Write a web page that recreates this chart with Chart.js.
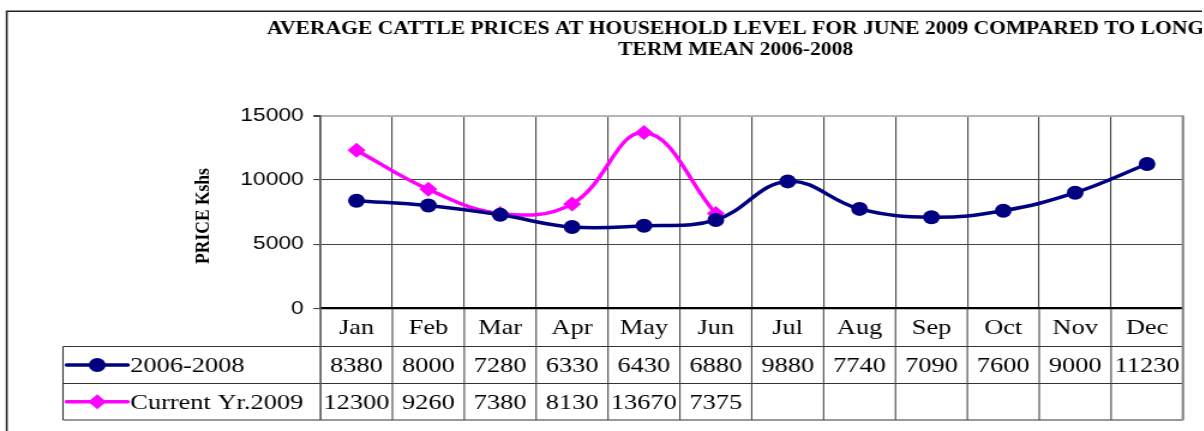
<!DOCTYPE html>
<html>
<head>
<meta charset="utf-8">
<script src="https://cdn.jsdelivr.net/npm/chart.js@4/dist/chart.umd.min.js"></script>
<style>
html,body{margin:0;padding:0;background:#fff;overflow:hidden;width:1204px;height:431px;}
#wrap{position:absolute;left:0;top:0;width:1002px;height:431px;transform:scaleX(1.2);transform-origin:0 0;}
</style>
</head>
<body>
<div id="wrap"><canvas id="c" width="1002" height="431"></canvas></div>
<script>
// ---- data ----
const months = ['Jan','Feb','Mar','Apr','May','Jun','Jul','Aug','Sep','Oct','Nov','Dec'];
const seriesNames = ['2006-2008','Current Yr.2009'];
const mean2006to2008 = [8380,8000,7280,6330,6430,6880,9880,7740,7090,7600,9000,11230];
const current2009 = [12300,9260,7380,8130,13670,7375,null,null,null,null,null,null];
const yTickValues = [0,5000,10000,15000];
const titleLines = ['AVERAGE CATTLE PRICES AT HOUSEHOLD LEVEL FOR JUNE 2009 COMPARED TO LONG','TERM MEAN 2006-2008'];
const yAxisTitle = 'PRICE Kshs';

// ---- styles ----
const NAVY = '#000080', MAGENTA = '#FF00FF';
const SERIF = "'Liberation Serif','Times New Roman',serif";

function strokeLine(ctx,x1,y1,x2,y2){ctx.beginPath();ctx.moveTo(x1,y1);ctx.lineTo(x2,y2);ctx.stroke();}
function drawMarker(ctx,style,x,y,r,color){
  ctx.fillStyle=color;ctx.beginPath();
  if(style==='circle'){ctx.arc(x,y,r,0,Math.PI*2);}
  else{ctx.moveTo(x,y-r);ctx.lineTo(x+r,y);ctx.lineTo(x,y+r);ctx.lineTo(x-r,y);ctx.closePath();}
  ctx.fill();
}

const decorPlugin = {
  id:'decor',
  afterDraw(chart){
    const {ctx, chartArea:a, scales:{x}} = chart;
    const y0=a.bottom, y1=y0+38, y2=y1+37, y3=y2+36.5;
    const tableLeft=52.5;
    ctx.save();
    // plot border right
    ctx.strokeStyle='#8a8a8a';ctx.lineWidth=2.2;
    strokeLine(ctx,a.right,a.top,a.right,a.bottom);
    // table lines
    ctx.strokeStyle='#333';ctx.lineWidth=1.1;
    strokeLine(ctx,tableLeft,y1,a.right,y1);
    strokeLine(ctx,tableLeft,y2,a.right,y2);
    strokeLine(ctx,tableLeft,y3,a.right,y3);
    strokeLine(ctx,tableLeft,y1,tableLeft,y3);
    const n=months.length;
    for(let i=0;i<=n;i++){
      let xb;
      if(i===0) xb=a.left; else if(i===n) xb=a.right;
      else xb=(x.getPixelForValue(i-1)+x.getPixelForValue(i))/2;
      if(i===n){ctx.strokeStyle='#8a8a8a';ctx.lineWidth=2.2;} else if(i===0){ctx.strokeStyle='#555';ctx.lineWidth=1.6;} else {ctx.strokeStyle='#444';ctx.lineWidth=1.1;}
      strokeLine(ctx,xb,y0,xb,y3);
    }
    // month labels and values
    ctx.fillStyle='#000';ctx.font='22px '+SERIF;ctx.textAlign='center';ctx.textBaseline='middle';
    const rows=[mean2006to2008,current2009];
    for(let i=0;i<n;i++){
      const cx=x.getPixelForValue(i);
      ctx.fillText(months[i],cx,(y0+y1)/2+1);
      if(rows[0][i]!=null) ctx.fillText(String(rows[0][i]),cx,(y1+y2)/2+1);
      if(rows[1][i]!=null) ctx.fillText(String(rows[1][i]),cx,(y2+y3)/2+1);
    }
    // legend keys
    const keys=[{c:NAVY,s:'circle',r:7,y:(y1+y2)/2},{c:MAGENTA,s:'diamond',r:7.5,y:(y2+y3)/2}];
    keys.forEach((k,i)=>{
      ctx.strokeStyle=k.c;ctx.lineWidth=3.5;ctx.lineCap='round';
      strokeLine(ctx,55.5,k.y,106.5,k.y);
      drawMarker(ctx,k.s,81,k.y,k.r,k.c);
      ctx.fillStyle='#000';ctx.textAlign='left';ctx.font='22px '+SERIF;
      ctx.fillText(seriesNames[i],108.5,k.y+1);
    });
    // title
    ctx.fillStyle='#000';ctx.textAlign='center';ctx.textBaseline='alphabetic';
    ctx.font='bold 18px '+SERIF;
    ctx.fillText(titleLines[0],613,34);
    ctx.fillText(titleLines[1],613,55);
    // y axis title
    ctx.save();ctx.translate(169,216);ctx.rotate(-Math.PI/2);
    ctx.font='bold 17.5px '+SERIF;ctx.textBaseline='middle';ctx.fillText(yAxisTitle,0,0);
    ctx.restore();
    // outer border (right and bottom run past the page)
    ctx.strokeStyle='#222';ctx.lineWidth=1.6;
    ctx.beginPath();ctx.moveTo(5.6,440);ctx.lineTo(5.6,11.3);ctx.lineTo(1010,11.3);ctx.stroke();
    ctx.restore();
  }
};

new Chart(document.getElementById('c'),{
  type:'line',
  data:{
    labels:months,
    datasets:[
      {label:seriesNames[0],data:mean2006to2008,borderColor:NAVY,backgroundColor:NAVY,borderWidth:3.5,
       pointStyle:'circle',pointRadius:7,pointBackgroundColor:NAVY,pointBorderColor:NAVY,pointBorderWidth:0,tension:0.4},
      {label:seriesNames[1],data:current2009,borderColor:MAGENTA,backgroundColor:MAGENTA,borderWidth:3.5,
       pointStyle:'rectRot',pointRadius:7.5,pointBackgroundColor:MAGENTA,pointBorderColor:MAGENTA,pointBorderWidth:0,tension:0.4}
    ]
  },
  options:{
    responsive:false,devicePixelRatio:1,animation:false,
    layout:{padding:{left:0,right:16.2,top:115.5,bottom:122.5}},
    plugins:{legend:{display:false},title:{display:false},tooltip:{enabled:false}},
    scales:{
      x:{type:'category',offset:true,
        afterFit(s){s.height=0;},
        ticks:{display:false},
        grid:{offset:true,drawTicks:false,lineWidth:1.1,
          color:(c)=> (c.index===undefined||c.index===0)?'rgba(0,0,0,0)':'#444'},
        border:{display:true,color:'#000',width:2.2}},
      y:{min:0,max:15000,
        afterFit(s){s.width=267.1;},
        afterBuildTicks(s){s.ticks=yTickValues.map(v=>({value:v}));},
        ticks:{color:'#000',font:{family:"'Liberation Sans',Arial,sans-serif",size:19},padding:8,
          callback:(v)=>String(v)},
        grid:{drawOnChartArea:true,drawTicks:true,tickLength:6,tickColor:'#444',
          color:(c)=>c.tick&&c.tick.value===15000?'#b5b5b5':(c.tick&&c.tick.value===0?'rgba(0,0,0,0)':'#444'),
          lineWidth:(c)=>c.tick&&c.tick.value===15000?2:1.1},
        border:{display:true,color:'#555',width:1.8}}
    }
  },
  plugins:[decorPlugin]
});
</script>
</body>
</html>
